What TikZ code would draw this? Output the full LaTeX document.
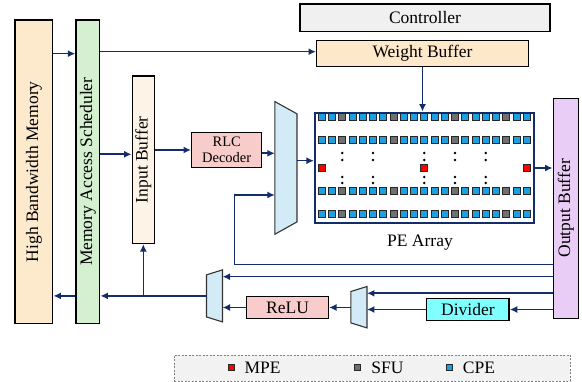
\documentclass[tikz,border=0pt]{standalone}
\usepackage{fontspec}
\setmainfont{Liberation Serif}
\usetikzlibrary{positioning,calc,arrows.meta}

\definecolor{hbmorange}{RGB}{253,233,204}
\definecolor{masgreen}{RGB}{213,240,208}
\definecolor{ibcream}{RGB}{253,243,231}
\definecolor{rlcpink}{RGB}{248,204,202}
\definecolor{ctrlgray}{RGB}{240,240,240}
\definecolor{wborange}{RGB}{253,232,202}
\definecolor{oblilac}{RGB}{233,205,247}
\definecolor{muxblue}{RGB}{211,234,247}
\definecolor{divcyan}{RGB}{128,255,255}
\definecolor{linenavy}{RGB}{18,45,105}
\definecolor{cpeblue}{RGB}{27,160,225}
\definecolor{sfugray}{RGB}{112,112,112}
\definecolor{lggray}{RGB}{242,242,242}

\newcommand{\diagfont}{\fontsize{17.5}{20}\selectfont}

\begin{document}
\begin{tikzpicture}[
    x=1pt, y=-1pt,
    unitbox/.style={rectangle, draw=black, line width=1.4pt, inner sep=1pt, font=\diagfont, align=center},
    muxbox/.style={rectangle, inner sep=0pt},
    muxshape/.style={draw=black!80, line width=1.1pt, fill=muxblue},
    arrow/.style={-{Latex[length=7.5pt,width=7pt]}, line width=1.6pt, color=linenavy},
    pecell/.style={rectangle, draw=black!85, line width=0.8pt, inner sep=0pt, minimum size=7pt},
    cpe/.style={pecell, fill=cpeblue},
    sfu/.style={pecell, fill=sfugray},
    mpe/.style={pecell, fill=red},
    vdot/.style={circle, fill=black, inner sep=0pt, minimum size=2.8pt}
  ]
    \useasboundingbox (0,0) rectangle (582,382);

    % memory side
    \node[unitbox, fill=hbmorange, minimum width=37.7pt, minimum height=303.3pt] (hbm) at (33.9,171.7) {\rotatebox{90}{High Bandwidth Memory}};
    \node[unitbox, fill=masgreen, minimum width=23.7pt, minimum height=303.3pt] (mas) at (87.9,171.7) {\rotatebox{90}{Memory Access Scheduler}};
    \node[unitbox, fill=ibcream, minimum width=22pt, minimum height=167.3pt] (ib) at (143.3,159.7) {\rotatebox{90}{Input Buffer}};
    \node[unitbox, fill=rlcpink, minimum width=70pt, minimum height=34.6pt, font=\fontsize{14.5}{15.5}\selectfont] (rlc) at (226.7,150) {RLC\\Decoder};

    % top and right
    \node[unitbox, fill=ctrlgray, minimum width=250pt, minimum height=27.7pt] (ctrl) at (425,17.9) {Controller};
    \node[unitbox, fill=wborange, minimum width=211.6pt, minimum height=26pt] (wb) at (422.5,53.7) {Weight Buffer};
    \node[unitbox, fill=oblilac, minimum width=25pt, minimum height=220pt] (ob) at (565.8,208.3) {\rotatebox{90}{Output Buffer}};
    \node[unitbox, fill=rlcpink, minimum width=81.6pt, minimum height=21.6pt] (relu) at (287.5,307.5) {ReLU};
    \node[unitbox, fill=divcyan, minimum width=82.3pt, minimum height=22.4pt] (div) at (467.9,309.5) {Divider};

    % PE array
    \node[rectangle, draw=linenavy, line width=2.2pt, minimum width=219pt, minimum height=110.6pt, inner sep=0pt] (pe) at (424.5,168) {};
    \node[font=\diagfont] (pelbl) at (420,243) {PE Array};
    \foreach \r in {117,140,191,214} {
      \foreach \c in {0,1,3,4,5,6,8,9,10,11,12,14,15,16,17,19,20}
        \node[cpe] (cell-\r-\c) at (321.7+10.25*\c,\r) {};
      \foreach \c in {2,7,13,18}
        \node[sfu] (cell-\r-\c) at (321.7+10.25*\c,\r) {};
    }
    \foreach \c in {0,10,20}
      \node[mpe] (cell-168-\c) at (321.7+10.25*\c,168) {};
    \foreach \c in {2,5,10,13,16}
      \foreach \dy in {153,160,177,183}
        \node[vdot] (dot-\c-\dy) at (321.7+10.25*\c,\dy) {};

    % muxes
    \node[muxbox, minimum width=21.7pt, minimum height=132.3pt] (muxa) at (285.9,167.9) {};
    \draw[muxshape] (muxa.north west) -- ($(muxa.north east)+(0,12.3)$) -- ($(muxa.south east)+(0,-12.3)$) -- (muxa.south west) -- cycle;
    \node[muxbox, minimum width=15.6pt, minimum height=51.7pt] (muxb) at (214.5,295.9) {};
    \draw[muxshape] ($(muxb.north west)+(0,5)$) -- (muxb.north east) -- (muxb.south east) -- ($(muxb.south west)+(0,-5)$) -- cycle;
    \node[muxbox, minimum width=15.7pt, minimum height=41pt] (muxc) at (358.9,307.2) {};
    \draw[muxshape] ($(muxc.north west)+(0,5)$) -- (muxc.north east) -- (muxc.south east) -- ($(muxc.south west)+(0,-5)$) -- cycle;

    \coordinate (muxa-in1) at ($(muxa.west)+(0,-14.6)$);
    \coordinate (muxa-in2) at ($(muxa.west)+(0,27.1)$);
    \coordinate (muxa-out) at ($(muxa.east)+(0,-7.2)$);
    \coordinate (muxb-in1) at ($(muxb.east)+(0,-19.2)$);
    \coordinate (muxc-in1) at ($(muxc.east)+(0,-13.9)$);
    \coordinate (ib-in) at ($(ib.west)+(0,-5.4)$);

    % connectors
    \draw[arrow] ($(hbm.north east)+(0,34.3)$) -- ($(mas.north west)+(0,34.3)$);
    \draw[arrow] ($(mas.east |- wb.west)+(0,-2)$) -- ($(wb.west)+(0,-2)$);
    \draw[arrow] (mas.east |- ib-in) -- (ib-in);
    \draw[arrow] (ib.east |- rlc.west) -- (rlc.west);
    \draw[arrow] (rlc.east |- muxa-in1) -- (muxa-in1);
    \draw[arrow] (muxa-out) -- (muxa-out -| pe.west);
    \draw[arrow] (wb.south) -- (wb.south |- pe.north);
    \draw[arrow] (pe.east) -- (pe.east -| ob.west);
    \draw[arrow] ($(ob.south west)+(0,-54.3)$) -- ++(-318.3,0) |- (muxa-in2);
    \draw[arrow] (ob.west |- muxb-in1) -- (muxb-in1);
    \draw[arrow] (ob.west |- muxc-in1) -- (muxc-in1);
    \draw[arrow] (ob.west |- div.east) -- (div.east);
    \draw[arrow] (div.west) -- (div.west -| muxc.east);
    \draw[arrow] (muxc.west |- relu.east) -- (relu.east);
    \draw[arrow] (relu.west) -- (relu.west -| muxb.east);
    \draw[arrow] (muxb.west) -- (muxb.west -| mas.east);
    \coordinate (split) at (ib.south |- muxb.west);
    \draw[arrow] (split) -- (ib.south);
    \draw[arrow] (mas.west |- muxb.west) -- (hbm.east |- muxb.west);

    % legend
    \node[rectangle, draw=gray, dash pattern=on 2pt off 1.5pt, fill=lggray, line width=0.8pt, minimum width=396pt, minimum height=26pt] (lg) at (372,368) {};
    \node[mpe, minimum size=6pt] (lg-mpe) at (231,367.3) {};
    \node[font=\diagfont, right=8pt of lg-mpe, inner sep=2pt] (lg-mpe-txt) {MPE};
    \node[sfu, minimum size=6pt] (lg-sfu) at (357.7,367.3) {};
    \node[font=\diagfont, right=8pt of lg-sfu, inner sep=2pt] (lg-sfu-txt) {SFU};
    \node[cpe, minimum size=6pt] (lg-cpe) at (449.3,367.3) {};
    \node[font=\diagfont, right=8pt of lg-cpe, inner sep=2pt] (lg-cpe-txt) {CPE};
\end{tikzpicture}
\end{document}
